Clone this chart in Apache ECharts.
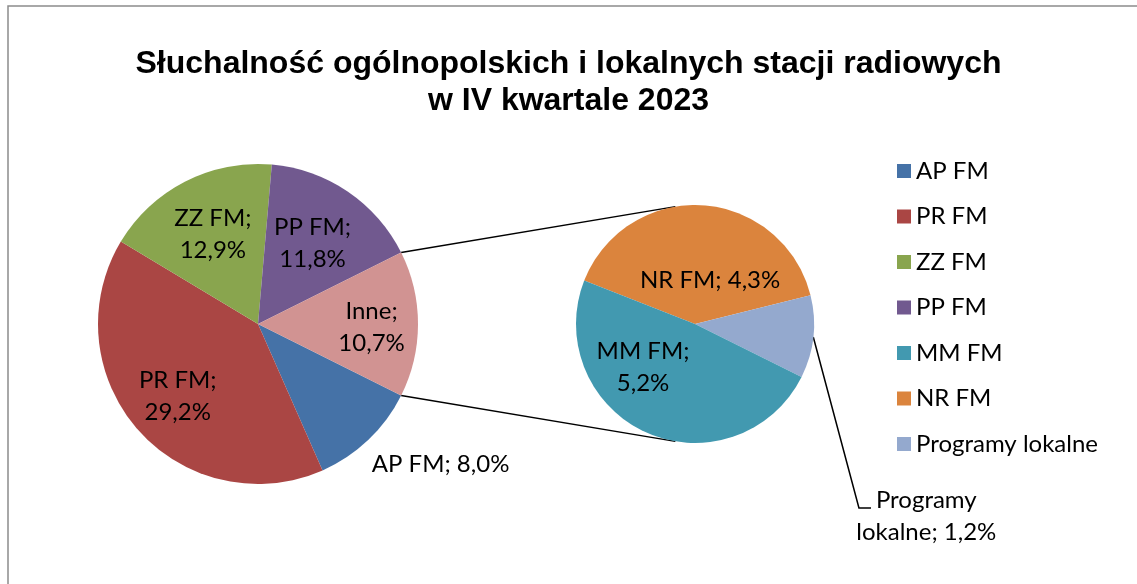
<!DOCTYPE html>
<html><head><meta charset="utf-8">
<script src="https://cdn.jsdelivr.net/npm/echarts@6/dist/echarts.min.js"></script>
<style>html,body{margin:0;padding:0;background:#fff}#c{width:1137px;height:584px}</style>
</head><body><div id="c"></div>
<script>
// ---- data ----
const titleLines = ['Słuchalność ogólnopolskich i lokalnych stacji radiowych', 'w IV kwartale 2023'];
const mainNames = ['AP FM', 'PR FM', 'ZZ FM', 'PP FM', 'Inne'];
const mainValues = [8.0, 29.2, 12.9, 11.8, 10.7];
const subNames = ['NR FM', 'Programy lokalne', 'MM FM'];
const subValues = [4.3, 1.2, 5.2];
const legendNames = ['AP FM', 'PR FM', 'ZZ FM', 'PP FM', 'MM FM', 'NR FM', 'Programy lokalne'];

// ---- style / layout ----
const colors = {
  'AP FM': '#4572A7', 'PR FM': '#AA4644', 'ZZ FM': '#89A54E', 'PP FM': '#71598F',
  'Inne': '#D19392', 'MM FM': '#4299B0', 'NR FM': '#DB843D', 'Programy lokalne': '#94A9CE'
};
const MAIN = {cx: 258, cy: 324, r: 160};
const SUB = {cx: 695, cy: 324, r: 119};
const SUB_START = 158.6;
const FONT = 'Lato, "Noto Sans", sans-serif';
const FS = 24;
// label anchor placement: angle (deg, math convention) and fraction of radius
const placement = {
  'PR FM': {a: 222, f: 0.675},
  'ZZ FM': {a: 116.6, f: 0.63},
  'PP FM': {a: 56, f: 0.61},
  'Inne': {a: -1.5, f: 0.71},
  'AP FM': {a: -51, f: 1.13, align: 'left'},
  'NR FM': {a: 71, f: 0.39},
  'MM FM': {a: 220, f: 0.57},
  'Programy lokalne': {a: -39.8, f: 2.53, line: [{a: -48.3, f: 2.071}, {a: -46.27, f: 2.14}]}
};

const rad = d => d * Math.PI / 180;
const sum = a => a.reduce((s, x) => s + x, 0);
const fmtVal = v => v.toFixed(1).replace('.', ',') + '%';
function labelText(name, v) {
  if (name === 'Programy lokalne') return 'Programy\nlokalne; ' + fmtVal(v);
  if (name === 'AP FM' || name === 'NR FM') return name + '; ' + fmtVal(v);
  return name + ';\n' + fmtVal(v);
}
function polar(g, angDeg, f) {
  return [g.cx + g.r * f * Math.cos(rad(angDeg)), g.cy - g.r * f * Math.sin(rad(angDeg))];
}

const mainTotal = sum(mainValues);
const subTotal = sum(subValues);
const inneHalf = 180 * mainValues[mainNames.indexOf('Inne')] / mainTotal;

function makeLayout(names, values, g, startAngle, total) {
  return function (p) {
    const name = names[p.dataIndex];
    const pl = placement[name];
    const xy = polar(g, pl.a, pl.f);
    const out = {x: xy[0], y: xy[1], align: pl.align || 'center', verticalAlign: 'middle'};
    if (pl.line) {
      let acc = 0;
      for (let i = 0; i < p.dataIndex; i++) acc += values[i];
      const mid = startAngle - (acc + values[p.dataIndex] / 2) / total * 360;
      const start = polar(g, mid, 1);
      out.labelLinePoints = [start, polar(g, pl.line[0].a, pl.line[0].f), polar(g, pl.line[1].a, pl.line[1].f)];
    }
    return out;
  };
}

function makeData(names, values, outsideSet) {
  return names.map((n, i) => ({
    name: n, value: values[i],
    itemStyle: {color: colors[n]},
    label: {position: outsideSet.includes(n) ? 'outside' : 'inside'},
    labelLine: {show: n === 'Programy lokalne'}
  }));
}

const labelStyle = {
  show: true, color: '#000', fontFamily: FONT, fontSize: FS, lineHeight: 32,
  formatter: p => labelText(p.name, p.value)
};

// connector tangent lines from Inne boundaries to second pie
function tangentPoint(px, py, g, sign) {
  const dx = px - g.cx, dy = py - g.cy;
  const d = Math.sqrt(dx * dx + dy * dy);
  const base = Math.atan2(dy, dx);
  const t = base + sign * Math.acos(g.r / d);
  return [g.cx + g.r * Math.cos(t), g.cy + g.r * Math.sin(t)];
}
const upA = [MAIN.cx + MAIN.r * Math.cos(rad(inneHalf)), MAIN.cy - MAIN.r * Math.sin(rad(inneHalf))];
const loA = [MAIN.cx + MAIN.r * Math.cos(rad(inneHalf)), MAIN.cy + MAIN.r * Math.sin(rad(inneHalf))];
const upB = tangentPoint(upA[0], upA[1], SUB, 1);
const loB = tangentPoint(loA[0], loA[1], SUB, -1);

const chart = echarts.init(document.getElementById('c'), null, {renderer: 'canvas'});
chart.setOption({
  animation: false,
  backgroundColor: '#fff',
  title: {
    text: titleLines.join('\n'), left: 'center', top: 46, padding: 0,
    textStyle: {fontFamily: '"Liberation Sans", Arial, sans-serif', fontWeight: 'bold', fontSize: 32, lineHeight: 37, color: '#000'}
  },
  legend: {
    data: legendNames, orient: 'vertical', left: 892, top: 154,
    icon: 'rect', itemWidth: 14, itemHeight: 14, itemGap: 21.5,
    selectedMode: false,
    textStyle: {fontFamily: FONT, fontSize: FS, color: '#000'}
  },
  graphic: [
    {type: 'rect', silent: true, shape: {x: 8, y: 6, width: 1200, height: 700}, style: {fill: 'none', stroke: '#8c8c8c', lineWidth: 1.5}},
    {type: 'line', silent: true, shape: {x1: upA[0], y1: upA[1], x2: upB[0], y2: upB[1]}, style: {stroke: '#000', lineWidth: 1.5}},
    {type: 'line', silent: true, shape: {x1: loA[0], y1: loA[1], x2: loB[0], y2: loB[1]}, style: {stroke: '#000', lineWidth: 1.5}}
  ],
  series: [
    {
      type: 'pie', silent: true, center: [MAIN.cx, MAIN.cy], radius: MAIN.r,
      startAngle: 360 - inneHalf, clockwise: true, avoidLabelOverlap: false,
      label: labelStyle, labelLine: {show: false},
      labelLayout: makeLayout(mainNames, mainValues, MAIN, 360 - inneHalf, mainTotal),
      emphasis: {disabled: true},
      data: makeData(mainNames, mainValues, ['AP FM'])
    },
    {
      type: 'pie', silent: true, center: [SUB.cx, SUB.cy], radius: SUB.r,
      startAngle: SUB_START, clockwise: true, avoidLabelOverlap: false,
      label: labelStyle, labelLine: {show: true, length: 20, length2: 10, lineStyle: {color: '#000', width: 1.5}},
      labelLayout: makeLayout(subNames, subValues, SUB, SUB_START, subTotal),
      emphasis: {disabled: true},
      data: makeData(subNames, subValues, ['Programy lokalne'])
    }
  ]
});
</script></body></html>
